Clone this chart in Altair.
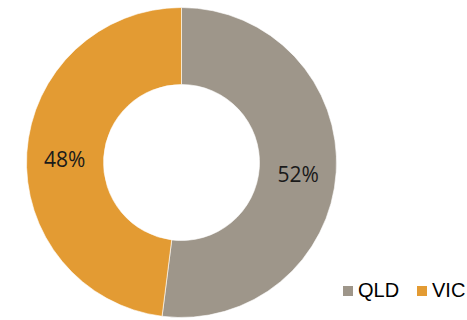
import altair as alt
import pandas as pd

states = ["QLD", "VIC"]
shares = [52, 48]
labels = ["52%", "48%"]
colors = ["#9E968A", "#E39B33"]

df = pd.DataFrame({"state": states, "share": shares, "label": labels, "ord": [0, 1]})

base = alt.Chart(df).encode(
    theta=alt.Theta("share:Q", stack=True),
    order=alt.Order("ord:Q"),
)

arc = base.mark_arc(outerRadius=155, innerRadius=78, stroke="white", strokeWidth=0.6).encode(
    color=alt.Color(
        "state:N",
        scale=alt.Scale(domain=states, range=colors),
        legend=alt.Legend(
            title=None,
            orient="none",
            legendX=338,
            legendY=277,
            direction="horizontal",
            symbolType="square",
            symbolSize=100,
            symbolStrokeWidth=0,
            labelFontSize=20,
            labelFont="Liberation Sans",
            labelColor="#000000",
            columnPadding=12,
            labelOffset=0,
        ),
    )
)

text = base.mark_text(radius=117, fontSize=21, font="Open Sans", color="#1a1a1a", dy=6).encode(
    text="label:N"
)

chart = (
    (arc + text)
    .properties(
        width=363,
        height=317,
        padding={"left": 0, "right": 104, "top": 4, "bottom": 0},
        autosize=alt.AutoSizeParams(type="none"),
    )
    .configure_view(stroke=None)
    .configure(background="white")
)

chart.save("out.html", embed_options={"renderer": "svg", "actions": False})
